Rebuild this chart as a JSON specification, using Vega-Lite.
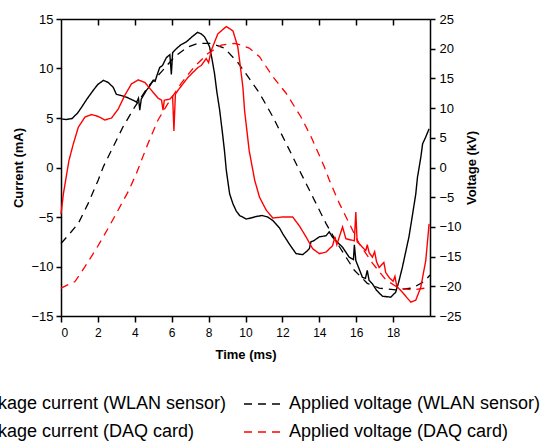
{
  "$schema": "https://vega.github.io/schema/vega-lite/v6.json",
  "width": 369,
  "height": 297,
  "autosize": {"type": "none"},
  "padding": {"left": 61, "top": 19, "right": 117, "bottom": 125},
  "background": "white",
  "config": {
    "view": {"stroke": null},
    "font": "Liberation Sans",
    "axis": {
      "grid": false,
      "domainColor": "#000000",
      "domainWidth": 1.5,
      "tickColor": "#000000",
      "tickWidth": 1.5,
      "labelColor": "#000000",
      "titleColor": "#000000",
      "labelFont": "Liberation Sans",
      "titleFont": "Liberation Sans",
      "titleFontWeight": "bold",
      "titleFontSize": 13
    },
    "legend": {"labelFont": "Liberation Sans", "labelColor": "#000000"}
  },
  "datasets": {
    "traces": [
      {"series": "Leakage current (WLAN sensor)", "t": 0, "v": 4.9},
      {"series": "Leakage current (WLAN sensor)", "t": 0.3, "v": 4.85},
      {"series": "Leakage current (WLAN sensor)", "t": 0.6, "v": 4.95},
      {"series": "Leakage current (WLAN sensor)", "t": 0.9, "v": 5.5},
      {"series": "Leakage current (WLAN sensor)", "t": 1.12, "v": 6.1},
      {"series": "Leakage current (WLAN sensor)", "t": 1.4, "v": 6.9},
      {"series": "Leakage current (WLAN sensor)", "t": 1.75, "v": 7.8},
      {"series": "Leakage current (WLAN sensor)", "t": 2.0, "v": 8.4},
      {"series": "Leakage current (WLAN sensor)", "t": 2.3, "v": 8.8},
      {"series": "Leakage current (WLAN sensor)", "t": 2.55, "v": 8.6},
      {"series": "Leakage current (WLAN sensor)", "t": 2.83, "v": 8.1},
      {"series": "Leakage current (WLAN sensor)", "t": 3.0, "v": 7.4},
      {"series": "Leakage current (WLAN sensor)", "t": 3.2, "v": 7.3},
      {"series": "Leakage current (WLAN sensor)", "t": 3.55, "v": 7.1},
      {"series": "Leakage current (WLAN sensor)", "t": 3.9, "v": 6.8},
      {"series": "Leakage current (WLAN sensor)", "t": 4.1, "v": 6.6},
      {"series": "Leakage current (WLAN sensor)", "t": 4.2, "v": 7.0},
      {"series": "Leakage current (WLAN sensor)", "t": 4.27, "v": 5.8},
      {"series": "Leakage current (WLAN sensor)", "t": 4.35, "v": 6.9},
      {"series": "Leakage current (WLAN sensor)", "t": 4.63, "v": 7.8},
      {"series": "Leakage current (WLAN sensor)", "t": 4.8, "v": 8.2},
      {"series": "Leakage current (WLAN sensor)", "t": 4.99, "v": 8.8},
      {"series": "Leakage current (WLAN sensor)", "t": 5.1, "v": 8.7},
      {"series": "Leakage current (WLAN sensor)", "t": 5.2, "v": 9.3},
      {"series": "Leakage current (WLAN sensor)", "t": 5.35, "v": 10.1},
      {"series": "Leakage current (WLAN sensor)", "t": 5.5, "v": 10.3},
      {"series": "Leakage current (WLAN sensor)", "t": 5.71, "v": 11.1},
      {"series": "Leakage current (WLAN sensor)", "t": 5.9, "v": 11.4},
      {"series": "Leakage current (WLAN sensor)", "t": 5.98, "v": 9.4},
      {"series": "Leakage current (WLAN sensor)", "t": 6.05, "v": 11.6},
      {"series": "Leakage current (WLAN sensor)", "t": 6.25, "v": 12.0},
      {"series": "Leakage current (WLAN sensor)", "t": 6.5, "v": 12.4},
      {"series": "Leakage current (WLAN sensor)", "t": 6.8, "v": 12.7},
      {"series": "Leakage current (WLAN sensor)", "t": 7.1, "v": 13.2},
      {"series": "Leakage current (WLAN sensor)", "t": 7.4, "v": 13.65},
      {"series": "Leakage current (WLAN sensor)", "t": 7.6, "v": 13.5},
      {"series": "Leakage current (WLAN sensor)", "t": 7.78, "v": 13.2},
      {"series": "Leakage current (WLAN sensor)", "t": 7.95, "v": 12.6},
      {"series": "Leakage current (WLAN sensor)", "t": 8.05, "v": 12.2},
      {"series": "Leakage current (WLAN sensor)", "t": 8.2, "v": 10.8},
      {"series": "Leakage current (WLAN sensor)", "t": 8.32, "v": 9.5},
      {"series": "Leakage current (WLAN sensor)", "t": 8.45, "v": 7.6},
      {"series": "Leakage current (WLAN sensor)", "t": 8.6, "v": 5.8},
      {"series": "Leakage current (WLAN sensor)", "t": 8.75, "v": 3.5},
      {"series": "Leakage current (WLAN sensor)", "t": 8.86, "v": 1.7},
      {"series": "Leakage current (WLAN sensor)", "t": 8.96, "v": -0.3},
      {"series": "Leakage current (WLAN sensor)", "t": 9.14, "v": -2.66},
      {"series": "Leakage current (WLAN sensor)", "t": 9.32, "v": -3.67},
      {"series": "Leakage current (WLAN sensor)", "t": 9.5, "v": -4.4},
      {"series": "Leakage current (WLAN sensor)", "t": 9.68, "v": -4.85},
      {"series": "Leakage current (WLAN sensor)", "t": 10.04, "v": -5.2},
      {"series": "Leakage current (WLAN sensor)", "t": 10.3, "v": -5.1},
      {"series": "Leakage current (WLAN sensor)", "t": 10.58, "v": -4.95},
      {"series": "Leakage current (WLAN sensor)", "t": 10.9, "v": -4.85},
      {"series": "Leakage current (WLAN sensor)", "t": 11.2, "v": -5.0},
      {"series": "Leakage current (WLAN sensor)", "t": 11.48, "v": -5.35},
      {"series": "Leakage current (WLAN sensor)", "t": 11.84, "v": -6.1},
      {"series": "Leakage current (WLAN sensor)", "t": 12.02, "v": -6.7},
      {"series": "Leakage current (WLAN sensor)", "t": 12.4, "v": -7.8},
      {"series": "Leakage current (WLAN sensor)", "t": 12.74, "v": -8.7},
      {"series": "Leakage current (WLAN sensor)", "t": 13.1, "v": -8.8},
      {"series": "Leakage current (WLAN sensor)", "t": 13.3, "v": -8.5},
      {"series": "Leakage current (WLAN sensor)", "t": 13.46, "v": -8.2},
      {"series": "Leakage current (WLAN sensor)", "t": 13.55, "v": -7.5},
      {"series": "Leakage current (WLAN sensor)", "t": 13.7, "v": -7.4},
      {"series": "Leakage current (WLAN sensor)", "t": 14.0, "v": -7.0},
      {"series": "Leakage current (WLAN sensor)", "t": 14.36, "v": -6.9},
      {"series": "Leakage current (WLAN sensor)", "t": 14.54, "v": -6.5},
      {"series": "Leakage current (WLAN sensor)", "t": 14.7, "v": -7.0},
      {"series": "Leakage current (WLAN sensor)", "t": 14.9, "v": -7.4},
      {"series": "Leakage current (WLAN sensor)", "t": 15.26, "v": -8.05},
      {"series": "Leakage current (WLAN sensor)", "t": 15.62, "v": -9.06},
      {"series": "Leakage current (WLAN sensor)", "t": 15.85, "v": -9.3},
      {"series": "Leakage current (WLAN sensor)", "t": 15.9, "v": -7.8},
      {"series": "Leakage current (WLAN sensor)", "t": 15.98, "v": -9.4},
      {"series": "Leakage current (WLAN sensor)", "t": 16.34, "v": -11.1},
      {"series": "Leakage current (WLAN sensor)", "t": 16.5, "v": -11.2},
      {"series": "Leakage current (WLAN sensor)", "t": 16.6, "v": -10.4},
      {"series": "Leakage current (WLAN sensor)", "t": 16.7, "v": -11.4},
      {"series": "Leakage current (WLAN sensor)", "t": 16.88, "v": -11.75},
      {"series": "Leakage current (WLAN sensor)", "t": 17.1, "v": -12.4},
      {"series": "Leakage current (WLAN sensor)", "t": 17.42, "v": -13.0},
      {"series": "Leakage current (WLAN sensor)", "t": 17.87, "v": -13.1},
      {"series": "Leakage current (WLAN sensor)", "t": 18.14, "v": -12.6},
      {"series": "Leakage current (WLAN sensor)", "t": 18.3, "v": -11.6},
      {"series": "Leakage current (WLAN sensor)", "t": 18.5, "v": -10.1},
      {"series": "Leakage current (WLAN sensor)", "t": 18.86, "v": -7.0},
      {"series": "Leakage current (WLAN sensor)", "t": 19.05, "v": -4.8},
      {"series": "Leakage current (WLAN sensor)", "t": 19.23, "v": -2.66},
      {"series": "Leakage current (WLAN sensor)", "t": 19.32, "v": -1.0},
      {"series": "Leakage current (WLAN sensor)", "t": 19.5, "v": 1.0},
      {"series": "Leakage current (WLAN sensor)", "t": 19.6, "v": 2.4},
      {"series": "Leakage current (WLAN sensor)", "t": 19.75, "v": 3.0},
      {"series": "Leakage current (WLAN sensor)", "t": 19.95, "v": 3.9},

      {"series": "Leakage current (DAQ card)", "t": 0, "v": -4.7},
      {"series": "Leakage current (DAQ card)", "t": 0.13, "v": -2.66},
      {"series": "Leakage current (DAQ card)", "t": 0.31, "v": -0.64},
      {"series": "Leakage current (DAQ card)", "t": 0.43, "v": 0.7},
      {"series": "Leakage current (DAQ card)", "t": 0.67, "v": 2.4},
      {"series": "Leakage current (DAQ card)", "t": 0.94, "v": 4.07},
      {"series": "Leakage current (DAQ card)", "t": 1.3, "v": 5.1},
      {"series": "Leakage current (DAQ card)", "t": 1.66, "v": 5.35},
      {"series": "Leakage current (DAQ card)", "t": 2.02, "v": 5.15},
      {"series": "Leakage current (DAQ card)", "t": 2.38, "v": 4.8},
      {"series": "Leakage current (DAQ card)", "t": 2.74, "v": 5.0},
      {"series": "Leakage current (DAQ card)", "t": 3.1, "v": 5.9},
      {"series": "Leakage current (DAQ card)", "t": 3.46, "v": 7.3},
      {"series": "Leakage current (DAQ card)", "t": 3.82, "v": 8.45},
      {"series": "Leakage current (DAQ card)", "t": 4.18, "v": 8.85},
      {"series": "Leakage current (DAQ card)", "t": 4.54, "v": 8.6},
      {"series": "Leakage current (DAQ card)", "t": 4.9, "v": 7.8},
      {"series": "Leakage current (DAQ card)", "t": 5.26, "v": 7.0},
      {"series": "Leakage current (DAQ card)", "t": 5.45, "v": 6.8},
      {"series": "Leakage current (DAQ card)", "t": 5.53, "v": 5.8},
      {"series": "Leakage current (DAQ card)", "t": 5.6, "v": 6.8},
      {"series": "Leakage current (DAQ card)", "t": 5.89, "v": 6.9},
      {"series": "Leakage current (DAQ card)", "t": 6.05, "v": 7.2},
      {"series": "Leakage current (DAQ card)", "t": 6.12, "v": 3.7},
      {"series": "Leakage current (DAQ card)", "t": 6.2, "v": 7.4},
      {"series": "Leakage current (DAQ card)", "t": 6.34, "v": 7.8},
      {"series": "Leakage current (DAQ card)", "t": 6.88, "v": 9.1},
      {"series": "Leakage current (DAQ card)", "t": 7.42, "v": 10.1},
      {"series": "Leakage current (DAQ card)", "t": 7.6, "v": 10.3},
      {"series": "Leakage current (DAQ card)", "t": 7.87, "v": 11.0},
      {"series": "Leakage current (DAQ card)", "t": 8.0, "v": 10.6},
      {"series": "Leakage current (DAQ card)", "t": 8.14, "v": 11.8},
      {"series": "Leakage current (DAQ card)", "t": 8.5, "v": 13.5},
      {"series": "Leakage current (DAQ card)", "t": 8.96, "v": 14.24},
      {"series": "Leakage current (DAQ card)", "t": 9.32, "v": 13.8},
      {"series": "Leakage current (DAQ card)", "t": 9.58, "v": 12.2},
      {"series": "Leakage current (DAQ card)", "t": 9.68, "v": 10.8},
      {"series": "Leakage current (DAQ card)", "t": 9.86, "v": 8.1},
      {"series": "Leakage current (DAQ card)", "t": 9.95, "v": 5.75},
      {"series": "Leakage current (DAQ card)", "t": 10.2, "v": 1.7},
      {"series": "Leakage current (DAQ card)", "t": 10.4, "v": -0.3},
      {"series": "Leakage current (DAQ card)", "t": 10.5, "v": -1.3},
      {"series": "Leakage current (DAQ card)", "t": 10.76, "v": -3.0},
      {"series": "Leakage current (DAQ card)", "t": 11.12, "v": -4.3},
      {"series": "Leakage current (DAQ card)", "t": 11.48, "v": -5.1},
      {"series": "Leakage current (DAQ card)", "t": 12.02, "v": -5.0},
      {"series": "Leakage current (DAQ card)", "t": 12.56, "v": -5.0},
      {"series": "Leakage current (DAQ card)", "t": 12.92, "v": -5.9},
      {"series": "Leakage current (DAQ card)", "t": 13.28, "v": -7.0},
      {"series": "Leakage current (DAQ card)", "t": 13.64, "v": -8.2},
      {"series": "Leakage current (DAQ card)", "t": 14.0, "v": -8.7},
      {"series": "Leakage current (DAQ card)", "t": 14.36, "v": -8.55},
      {"series": "Leakage current (DAQ card)", "t": 14.72, "v": -7.9},
      {"series": "Leakage current (DAQ card)", "t": 14.85, "v": -7.0},
      {"series": "Leakage current (DAQ card)", "t": 14.95, "v": -7.8},
      {"series": "Leakage current (DAQ card)", "t": 15.08, "v": -7.04},
      {"series": "Leakage current (DAQ card)", "t": 15.26, "v": -6.0},
      {"series": "Leakage current (DAQ card)", "t": 15.44, "v": -7.2},
      {"series": "Leakage current (DAQ card)", "t": 15.9, "v": -7.4},
      {"series": "Leakage current (DAQ card)", "t": 15.98, "v": -4.5},
      {"series": "Leakage current (DAQ card)", "t": 16.05, "v": -7.5},
      {"series": "Leakage current (DAQ card)", "t": 16.16, "v": -7.7},
      {"series": "Leakage current (DAQ card)", "t": 16.52, "v": -8.4},
      {"series": "Leakage current (DAQ card)", "t": 16.6, "v": -7.8},
      {"series": "Leakage current (DAQ card)", "t": 16.7, "v": -8.6},
      {"series": "Leakage current (DAQ card)", "t": 16.88, "v": -9.06},
      {"series": "Leakage current (DAQ card)", "t": 17.0, "v": -8.5},
      {"series": "Leakage current (DAQ card)", "t": 17.1, "v": -9.5},
      {"series": "Leakage current (DAQ card)", "t": 17.24, "v": -10.1},
      {"series": "Leakage current (DAQ card)", "t": 17.5, "v": -9.6},
      {"series": "Leakage current (DAQ card)", "t": 17.6, "v": -10.6},
      {"series": "Leakage current (DAQ card)", "t": 17.78, "v": -11.1},
      {"series": "Leakage current (DAQ card)", "t": 18.0, "v": -11.5},
      {"series": "Leakage current (DAQ card)", "t": 18.1, "v": -11.0},
      {"series": "Leakage current (DAQ card)", "t": 18.2, "v": -12.0},
      {"series": "Leakage current (DAQ card)", "t": 18.5, "v": -12.6},
      {"series": "Leakage current (DAQ card)", "t": 18.96, "v": -13.6},
      {"series": "Leakage current (DAQ card)", "t": 19.23, "v": -13.4},
      {"series": "Leakage current (DAQ card)", "t": 19.5, "v": -12.1},
      {"series": "Leakage current (DAQ card)", "t": 19.77, "v": -9.4},
      {"series": "Leakage current (DAQ card)", "t": 19.95, "v": -5.7},

      {"series": "Applied voltage (WLAN sensor)", "t": 0, "v": -12.8},
      {"series": "Applied voltage (WLAN sensor)", "t": 0.4, "v": -11.4},
      {"series": "Applied voltage (WLAN sensor)", "t": 0.94, "v": -9.4},
      {"series": "Applied voltage (WLAN sensor)", "t": 1.48, "v": -6.0},
      {"series": "Applied voltage (WLAN sensor)", "t": 2.02, "v": -2.1},
      {"series": "Applied voltage (WLAN sensor)", "t": 2.29, "v": 0.1},
      {"series": "Applied voltage (WLAN sensor)", "t": 2.83, "v": 3.5},
      {"series": "Applied voltage (WLAN sensor)", "t": 3.37, "v": 6.9},
      {"series": "Applied voltage (WLAN sensor)", "t": 4.0, "v": 10.2},
      {"series": "Applied voltage (WLAN sensor)", "t": 4.72, "v": 13.6},
      {"series": "Applied voltage (WLAN sensor)", "t": 5.44, "v": 16.1},
      {"series": "Applied voltage (WLAN sensor)", "t": 6.16, "v": 18.65},
      {"series": "Applied voltage (WLAN sensor)", "t": 6.88, "v": 20.3},
      {"series": "Applied voltage (WLAN sensor)", "t": 7.42, "v": 20.9},
      {"series": "Applied voltage (WLAN sensor)", "t": 8.14, "v": 20.9},
      {"series": "Applied voltage (WLAN sensor)", "t": 8.86, "v": 20.1},
      {"series": "Applied voltage (WLAN sensor)", "t": 9.58, "v": 17.7},
      {"series": "Applied voltage (WLAN sensor)", "t": 9.95, "v": 16.1},
      {"series": "Applied voltage (WLAN sensor)", "t": 10.76, "v": 12.5},
      {"series": "Applied voltage (WLAN sensor)", "t": 11.48, "v": 8.55},
      {"series": "Applied voltage (WLAN sensor)", "t": 12.2, "v": 4.07},
      {"series": "Applied voltage (WLAN sensor)", "t": 12.8, "v": 0.3},
      {"series": "Applied voltage (WLAN sensor)", "t": 13.46, "v": -3.8},
      {"series": "Applied voltage (WLAN sensor)", "t": 14.36, "v": -9.4},
      {"series": "Applied voltage (WLAN sensor)", "t": 15.08, "v": -13.3},
      {"series": "Applied voltage (WLAN sensor)", "t": 15.9, "v": -17.3},
      {"series": "Applied voltage (WLAN sensor)", "t": 16.6, "v": -19.5},
      {"series": "Applied voltage (WLAN sensor)", "t": 17.24, "v": -20.3},
      {"series": "Applied voltage (WLAN sensor)", "t": 18.14, "v": -20.6},
      {"series": "Applied voltage (WLAN sensor)", "t": 19.04, "v": -20.3},
      {"series": "Applied voltage (WLAN sensor)", "t": 19.68, "v": -19.2},
      {"series": "Applied voltage (WLAN sensor)", "t": 20.0, "v": -18.1},

      {"series": "Applied voltage (DAQ card)", "t": 0, "v": -20.3},
      {"series": "Applied voltage (DAQ card)", "t": 0.76, "v": -19.2},
      {"series": "Applied voltage (DAQ card)", "t": 1.3, "v": -16.7},
      {"series": "Applied voltage (DAQ card)", "t": 1.93, "v": -13.6},
      {"series": "Applied voltage (DAQ card)", "t": 2.56, "v": -10.2},
      {"series": "Applied voltage (DAQ card)", "t": 3.1, "v": -7.15},
      {"series": "Applied voltage (DAQ card)", "t": 3.64, "v": -4.07},
      {"series": "Applied voltage (DAQ card)", "t": 4.09, "v": -0.98},
      {"series": "Applied voltage (DAQ card)", "t": 4.72, "v": 4.07},
      {"series": "Applied voltage (DAQ card)", "t": 5.26, "v": 8.0},
      {"series": "Applied voltage (DAQ card)", "t": 5.8, "v": 10.8},
      {"series": "Applied voltage (DAQ card)", "t": 6.52, "v": 14.2},
      {"series": "Applied voltage (DAQ card)", "t": 7.24, "v": 17.0},
      {"series": "Applied voltage (DAQ card)", "t": 7.96, "v": 19.2},
      {"series": "Applied voltage (DAQ card)", "t": 8.69, "v": 20.6},
      {"series": "Applied voltage (DAQ card)", "t": 9.4, "v": 20.9},
      {"series": "Applied voltage (DAQ card)", "t": 9.68, "v": 20.7},
      {"series": "Applied voltage (DAQ card)", "t": 10.2, "v": 20.1},
      {"series": "Applied voltage (DAQ card)", "t": 10.76, "v": 18.65},
      {"series": "Applied voltage (DAQ card)", "t": 11.48, "v": 15.3},
      {"series": "Applied voltage (DAQ card)", "t": 12.2, "v": 12.5},
      {"series": "Applied voltage (DAQ card)", "t": 13.0, "v": 8.55},
      {"series": "Applied voltage (DAQ card)", "t": 13.55, "v": 5.2},
      {"series": "Applied voltage (DAQ card)", "t": 14.27, "v": 0.13},
      {"series": "Applied voltage (DAQ card)", "t": 14.54, "v": -2.1},
      {"series": "Applied voltage (DAQ card)", "t": 15.08, "v": -6.0},
      {"series": "Applied voltage (DAQ card)", "t": 15.62, "v": -9.4},
      {"series": "Applied voltage (DAQ card)", "t": 16.16, "v": -12.8},
      {"series": "Applied voltage (DAQ card)", "t": 16.88, "v": -16.1},
      {"series": "Applied voltage (DAQ card)", "t": 17.6, "v": -18.9},
      {"series": "Applied voltage (DAQ card)", "t": 18.3, "v": -20.3},
      {"series": "Applied voltage (DAQ card)", "t": 19.04, "v": -20.6},
      {"series": "Applied voltage (DAQ card)", "t": 19.77, "v": -20.3},
      {"series": "Applied voltage (DAQ card)", "t": 20.0, "v": -20.2}
    ]
  },
  "data": {"name": "traces"},
  "layer": [
    {
      "transform": [
        {"filter": {"field": "series", "oneOf": ["Applied voltage (WLAN sensor)", "Applied voltage (DAQ card)"]}}
      ],
      "mark": {"type": "line", "strokeWidth": 1.3},
      "encoding": {
        "x": {
          "field": "t", "type": "quantitative",
          "scale": {"domain": [0, 20], "nice": false, "zero": false},
          "axis": {"orient": "top", "values": [2, 4, 6, 8, 10, 12, 14, 16, 18], "labels": false, "title": null, "tickSize": -6}
        },
        "y": {
          "field": "v", "type": "quantitative",
          "scale": {"domain": [-25, 25], "nice": false, "zero": false},
          "axis": {
            "orient": "right", "title": "Voltage (kV)", "titleAngle": 270,
            "values": [-25, -20, -15, -10, -5, 0, 5, 10, 15, 20, 25],
            "tickSize": 5, "labelPadding": 4, "labelFontSize": 13, "titlePadding": 17
          }
        },
        "color": {
          "field": "series", "type": "nominal",
          "scale": {
            "domain": ["Leakage current (WLAN sensor)", "Applied voltage (WLAN sensor)", "Leakage current (DAQ card)", "Applied voltage (DAQ card)"],
            "range": ["#000000", "#000000", "#ff0000", "#ff0000"]
          },
          "legend": {
            "orient": "none", "legendX": -139, "legendY": 366, "columns": 2, "direction": "horizontal",
            "title": null, "labelFontSize": 18, "labelLimit": 400, "symbolType": "stroke", "symbolSize": 1296,
            "symbolStrokeWidth": 1.5, "labelOffset": 8, "columnPadding": 14, "rowPadding": -2, "padding": 0
          }
        },
        "strokeDash": {
          "field": "series", "type": "nominal",
          "scale": {
            "domain": ["Leakage current (WLAN sensor)", "Applied voltage (WLAN sensor)", "Leakage current (DAQ card)", "Applied voltage (DAQ card)"],
            "range": [[1, 0], [8, 6], [1, 0], [8, 6]]
          },
          "legend": {
            "orient": "none", "legendX": -139, "legendY": 366, "columns": 2, "direction": "horizontal",
            "title": null, "labelFontSize": 18, "labelLimit": 400, "symbolType": "stroke", "symbolSize": 1296,
            "symbolStrokeWidth": 1.5, "labelOffset": 8, "columnPadding": 14, "rowPadding": -2, "padding": 0
          }
        }
      }
    },
    {
      "transform": [
        {"filter": {"field": "series", "oneOf": ["Leakage current (WLAN sensor)", "Leakage current (DAQ card)"]}}
      ],
      "mark": {"type": "line", "strokeWidth": 1.4},
      "encoding": {
        "x": {
          "field": "t", "type": "quantitative",
          "scale": {"domain": [0, 20], "nice": false, "zero": false},
          "axis": {
            "orient": "bottom", "title": "Time (ms)", "values": [0, 2, 4, 6, 8, 10, 12, 14, 16, 18],
            "tickSize": 6, "labelPadding": 5, "labelFontSize": 12, "titlePadding": 10
          }
        },
        "y": {
          "field": "v", "type": "quantitative",
          "scale": {"domain": [-15, 15], "nice": false, "zero": false},
          "axis": {
            "orient": "left", "title": "Current (mA)",
            "values": [-15, -10, -5, 0, 5, 10, 15],
            "tickSize": 5, "labelPadding": 3, "labelFontSize": 13, "titlePadding": 5
          }
        },
        "color": {
          "field": "series", "type": "nominal",
          "scale": {
            "domain": ["Leakage current (WLAN sensor)", "Applied voltage (WLAN sensor)", "Leakage current (DAQ card)", "Applied voltage (DAQ card)"],
            "range": ["#000000", "#000000", "#ff0000", "#ff0000"]
          }
        },
        "strokeDash": {
          "field": "series", "type": "nominal",
          "scale": {
            "domain": ["Leakage current (WLAN sensor)", "Applied voltage (WLAN sensor)", "Leakage current (DAQ card)", "Applied voltage (DAQ card)"],
            "range": [[1, 0], [8, 6], [1, 0], [8, 6]]
          }
        }
      }
    }
  ],
  "resolve": {"scale": {"y": "independent"}, "axis": {"x": "independent"}}
}
